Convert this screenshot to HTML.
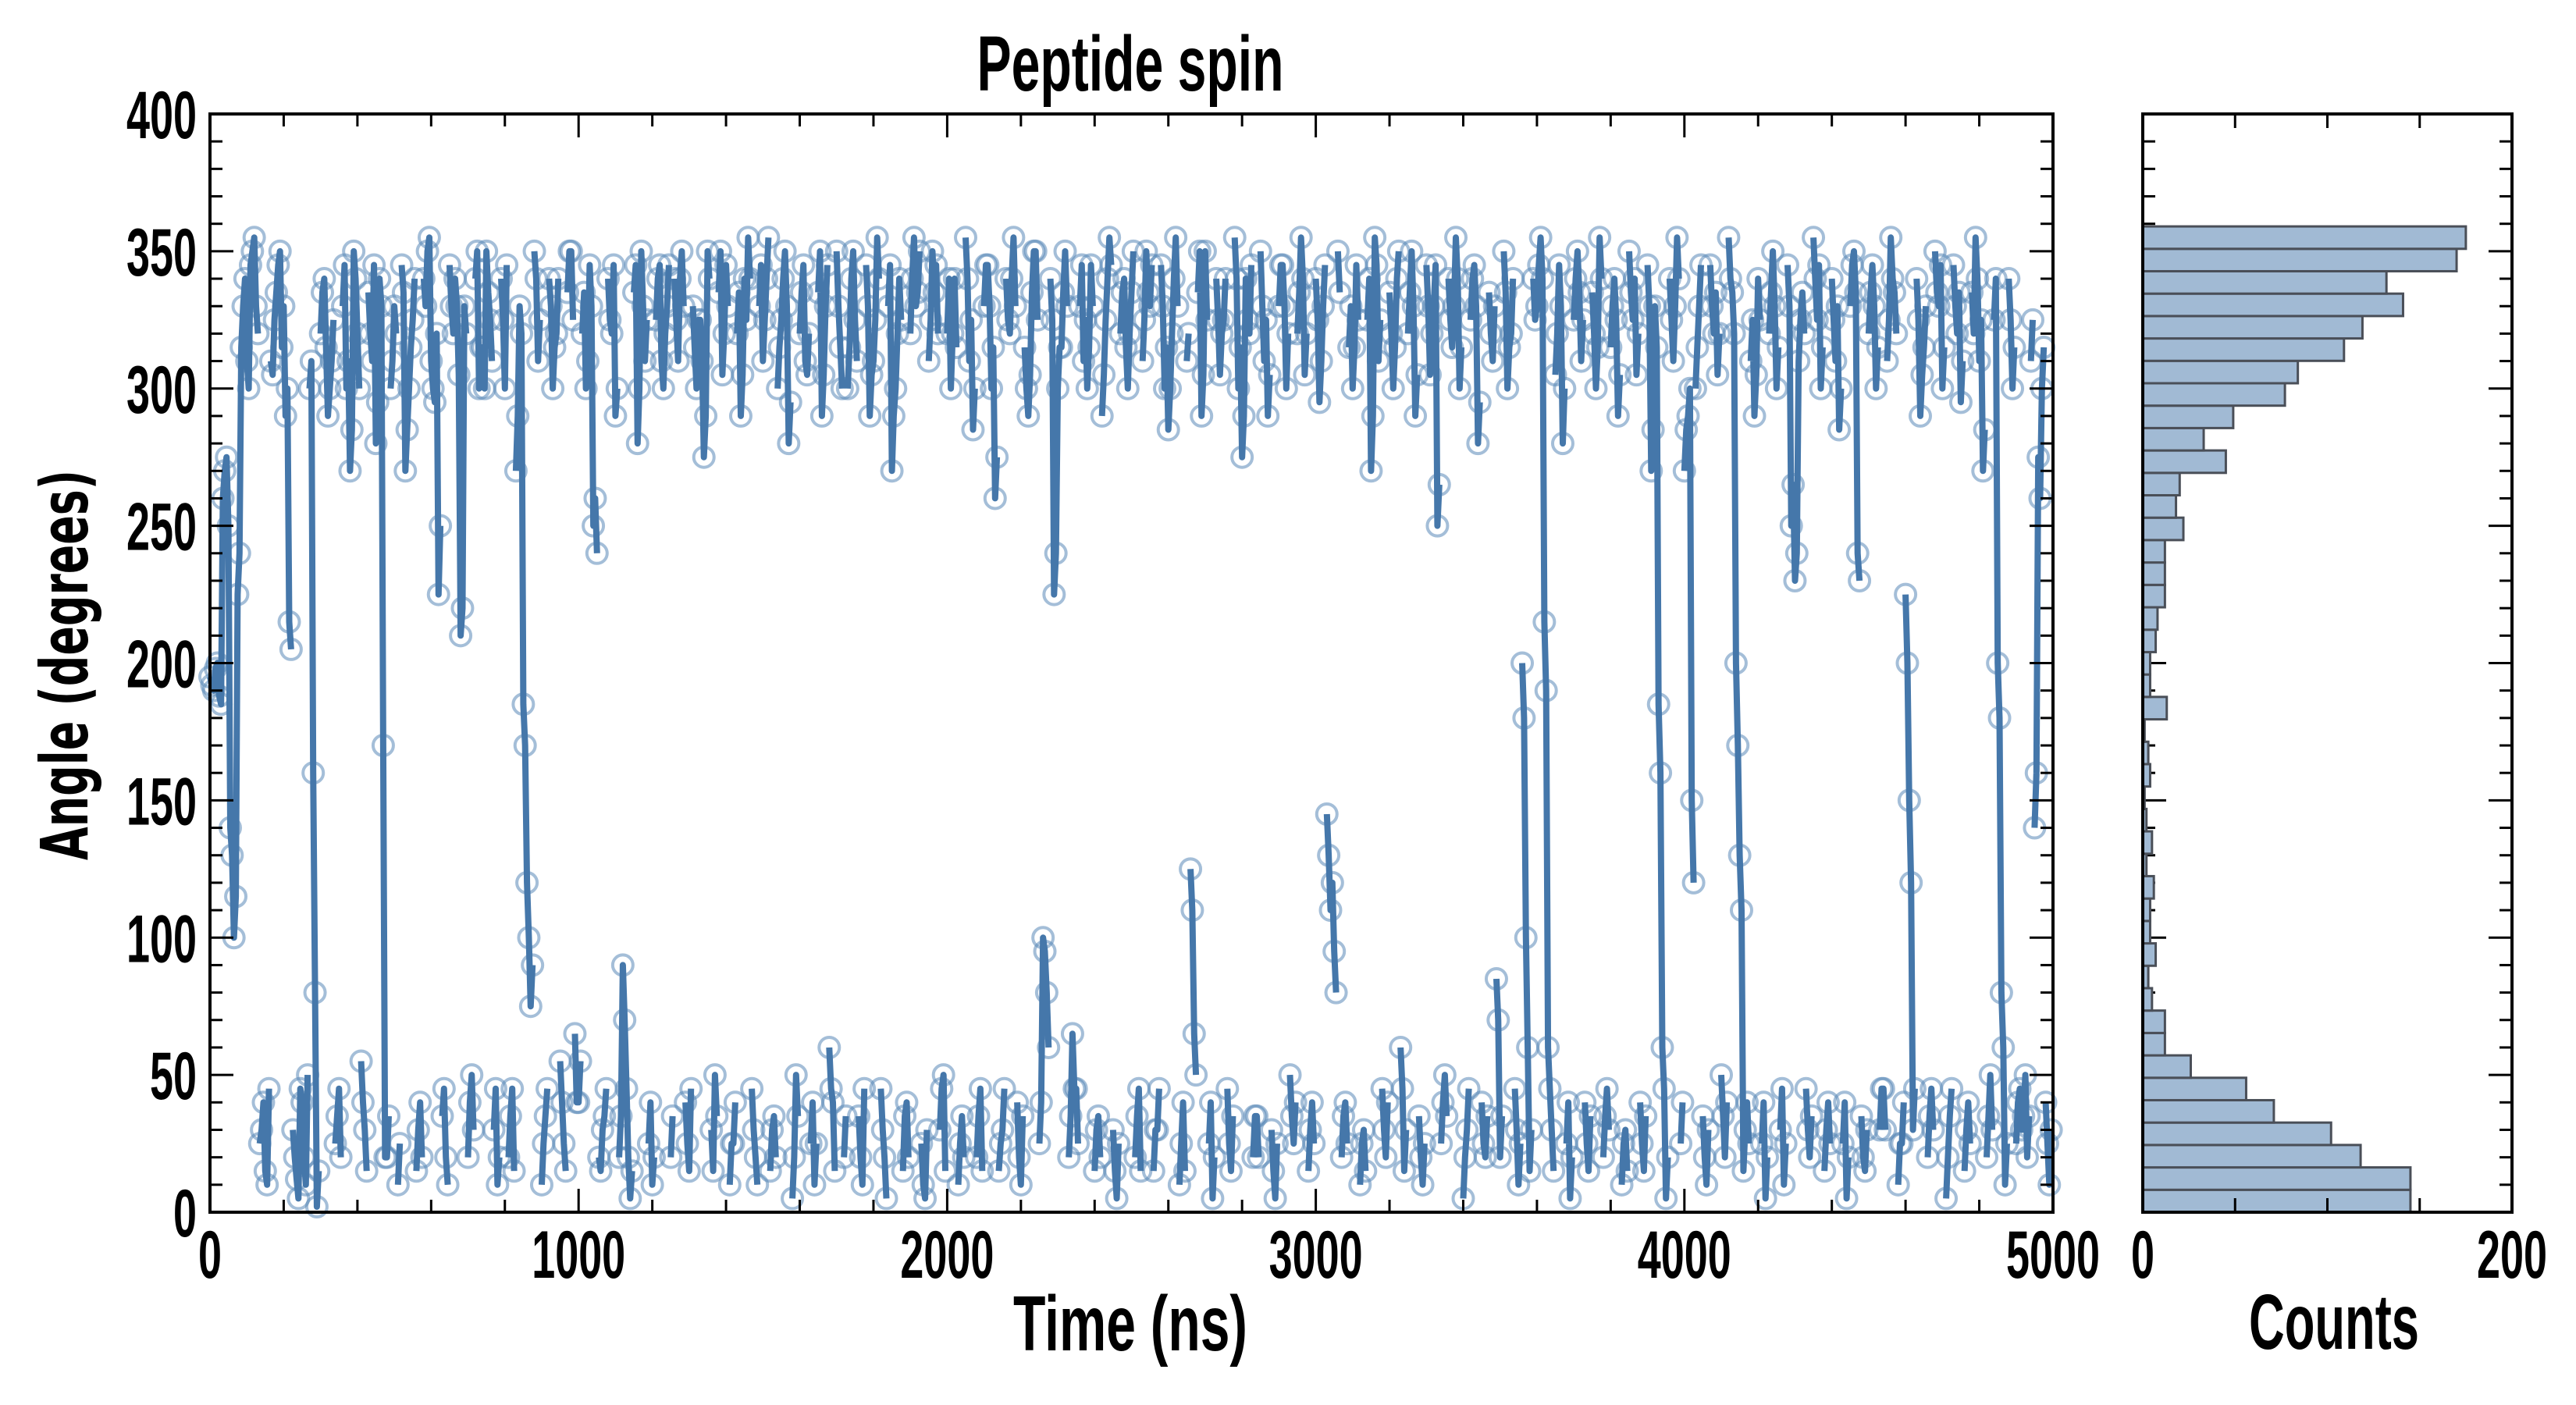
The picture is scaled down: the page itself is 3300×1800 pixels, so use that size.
<!DOCTYPE html>
<html><head><meta charset="utf-8"><style>
html,body{margin:0;padding:0;background:#fff;}
svg{display:block;}
text{font-family:"Liberation Sans Narrow","Liberation Sans",sans-serif;font-weight:bold;fill:#000;}
</style></head><body>
<svg id="chart" width="3300" height="1800" viewBox="0 0 3300 1800" xmlns="http://www.w3.org/2000/svg">
<g id="main"></g>
<g id="hist"></g>
<text x="1448" y="116" font-size="100" text-anchor="middle" textLength="393" lengthAdjust="spacingAndGlyphs">Peptide spin</text>
<text x="1448" y="1730" font-size="100" text-anchor="middle" textLength="300" lengthAdjust="spacingAndGlyphs">Time (ns)</text>
<text x="2990" y="1728" font-size="100" text-anchor="middle" textLength="218" lengthAdjust="spacingAndGlyphs">Counts</text>
<text transform="translate(112,852) rotate(-90)" font-size="84" text-anchor="middle" textLength="500" lengthAdjust="spacingAndGlyphs" style="font-family:'DejaVu Sans','Liberation Sans',sans-serif">Angle (degrees)</text>
</svg>
<script>
const anglesA = [
195,190,200,185,270,250,130,115,240,330,310,345,355,320,30,15,45,305,335,350,330,300,205,20,5,
40,10,300,160,2,320,340,290,310,25,45,330,300,270,350,320,55,30,335,310,280,340,170,20,300,
330,10,345,270,300,325,15,40,340,350,310,295,225,35,20,345,320,330,210,330,20,50,340,300,315,
350,325,30,10,340,300,20,45,270,330,185,120,75,350,310,10,35,340,300,320,55,25,335,350,65,
40,320,300,345,250,240,15,35,340,320,290,20,90,45,5,335,280,350,310,25,10,325,345,300,330,
20,340,310,350,40,15,330,300,325,275,350,30,50,335,305,345,10,25,320,290,340,355,45,20,330,
310,340,15,35,300,325,350,280,5,50,320,345,305,25,10,335,290,330,60,40,350,315,20,300,340,
325,35,10,345,290,310,355,45,20,330,270,300,340,15,40,320,355,335,25,5,310,350,345,30,50,
320,300,340,10,35,355,310,285,20,45,330,345,300,260,15,30,340,320,355,40,10,315,290,335,350,
25,100,80,340,225,300,315,350,20,65,45,330,310,300,345,15,35,290,325,355,30,5,320,340,300,
335,20,45,310,350,330,15,30,345,300,285,320,355,10,40,310,125,65,335,290,350,25,5,340,305,
325,45,15,355,300,275,340,320,20,35,350,310,290,30,5,330,345,300,50,25,320,355,305,15,40,
340,295,330,145,110,95,350,20,40,315,300,345,10,30,325,270,355,310,45,20,335,300,340,60,15,
320,350,290,35,10,345,305,330,250,25,50,340,315,355,300,5,30,325,345,280,40,20,335,310,85,
20,350,300,320,45,10,200,100,15,340,330,355,215,60,30,305,345,280,25,5,325,350,310,40,15,
335,300,355,20,45,315,340,290,10,30,350,325,305,40,15,345,270,330,185,60,5,340,310,355,25,
270,290,150,300,330,35,10,345,320,305,50,20,355,335,200,130,15,40,310,290,340,25,5,320,350,
300,30,10,345,250,230,310,335,45,20,355,325,300,15,40,340,310,285,25,5,330,350,240,35,15,
320,345,300,30,45,310,355,335,10,25,225,150,30,340,290,315,20,45,350,330,300,5,35,345,320,
295,15,40,335,355,310,270,20,50,325,200,80,10,340,300,25,45,35,20,310,140,275,300,40,10];
const anglesB = [
192,198,188,260,275,140,100,225,315,340,300,350,330,25,40,10,310,325,345,315,290,215,30,12,45,
20,50,310,80,15,335,315,300,325,35,20,345,310,285,340,300,40,15,320,345,295,330,20,35,310,
320,25,335,285,315,340,30,20,330,355,300,320,250,45,10,330,340,305,220,320,40,30,350,315,300,
335,310,45,20,325,345,35,15,290,320,170,100,90,340,325,25,45,330,315,340,40,15,350,325,40,
55,335,310,330,260,20,30,45,325,345,300,35,70,20,15,345,300,330,325,40,20,340,310,320,345,
35,325,340,330,25,45,315,325,310,290,340,15,35,350,320,330,25,40,335,305,325,340,30,10,345,
325,355,30,20,315,340,330,295,20,35,335,310,320,40,25,350,305,345,45,15,330,300,35,315,350,
310,20,45,330,305,325,340,30,5,345,290,320,325,35,20,340,330,350,10,30,325,335,320,45,15,
340,320,315,25,20,340,325,300,35,15,345,330,315,275,25,45,325,340,330,20,35,300,305,350,325,
40,95,60,325,240,315,335,330,35,45,25,345,325,315,330,30,20,305,340,345,15,25,335,315,320,
350,35,15,325,335,345,30,45,330,315,300,340,330,25,15,320,110,50,350,305,325,40,20,325,320,
340,25,35,340,315,290,325,345,35,20,330,325,305,15,25,345,330,320,35,40,335,340,320,30,25,
325,310,345,130,120,80,335,35,25,330,315,325,25,15,340,290,345,325,30,40,320,315,350,45,30,
335,330,305,20,25,330,320,345,265,40,35,325,330,340,315,20,45,340,330,295,25,35,320,330,70,
35,335,315,340,30,25,180,60,30,325,345,340,190,45,15,320,330,300,40,20,340,335,325,25,35,
320,315,340,35,30,330,325,305,25,15,335,340,320,25,35,330,285,315,160,45,20,325,330,340,40,
285,300,120,315,345,20,30,330,335,320,35,40,340,320,170,110,30,25,325,305,325,40,20,335,330,
315,45,25,330,265,240,325,320,30,35,340,345,315,30,25,325,330,300,40,20,345,335,230,20,30,
335,330,315,45,30,325,340,320,25,40,200,120,45,325,305,330,35,30,335,345,315,20,45,330,335,
310,30,25,320,340,325,285,35,30,340,180,60,25,325,315,40,30,50,35,325,160,260,315,25,30];
const times = [];
const angles = [];
for (let i = 0; i < anglesA.length; i++) {
  times.push(i * 10); angles.push(anglesA[i]);
  times.push(i * 10 + 5); angles.push(anglesB[i]);
}
const histCounts = [145,145,118,102,71,56,26,12,12,5,3,7,4,4,6,2,5,2,1,4,3,1,13,4,4,7,8,12,12,12,22,18,20,45,33,49,77,84,109,119,141,132,170,175];
const histBinWidth = 8.16;
const xTicks = [0,1000,2000,3000,4000,5000];
const yTicks = [0,50,100,150,200,250,300,350,400];
const histXTickLabels = [0,200];

const NS = "http://www.w3.org/2000/svg";
const L = 269, R = 2630, T = 146, B = 1553;
const HL = 2745, HR = 3218;
const xs = v => L + (v / 5000) * (R - L);
const ys = v => B - (v / 400) * (B - T);
const hx = v => HL + (v / 200) * (HR - HL);
function mk(tag, attrs, parent) {
  const e = document.createElementNS(NS, tag);
  for (const k in attrs) e.setAttribute(k, attrs[k]);
  parent.appendChild(e);
  return e;
}
const main = document.getElementById('main');
const hist = document.getElementById('hist');

for (let i = 0; i < angles.length; i++) {
  const c = mk('circle', {cx: xs(times[i]), cy: ys(angles[i]), r: 13, fill: 'none', stroke: '#5a88b8', 'stroke-opacity': 0.55, 'stroke-width': 4}, main);
  
  
}
let d = '';
for (let i = 0; i < angles.length; i++) {
  const x = xs(times[i]).toFixed(1), y = ys(angles[i]).toFixed(1);
  if (i > 0 && Math.abs(angles[i] - angles[i-1]) <= 160) d += 'L' + x + ' ' + y;
  else d += 'M' + x + ' ' + y;
}
const line = mk('path', {d: d, fill: 'none', stroke: '#4577aa', 'stroke-width': 8, 'stroke-linejoin': 'round'}, main);



const fr = mk('rect', {x: L, y: T, width: R - L, height: B - T, fill: 'none', stroke: '#000', 'stroke-width': 4}, main);


for (let v = 0; v <= 5000; v += 200) {
  const len = v % 1000 === 0 ? 30 : 16;
  mk('line', {x1: xs(v), y1: B, x2: xs(v), y2: B - len, stroke: '#000', 'stroke-width': 3}, main);
  mk('line', {x1: xs(v), y1: T, x2: xs(v), y2: T + len, stroke: '#000', 'stroke-width': 3}, main);
}
xTicks.forEach(v => {
  const t = mk('text', {x: xs(v), y: 1637, 'font-size': 86, 'text-anchor': 'middle'}, main);
  t.textContent = v;
  t.setAttribute('textLength', String(v).length * 30);
  t.setAttribute('lengthAdjust', 'spacingAndGlyphs');
  
  
});
for (let v = 0; v <= 400; v += 10) {
  const len = v % 50 === 0 ? 30 : 16;
  mk('line', {x1: L, y1: ys(v), x2: L + len, y2: ys(v), stroke: '#000', 'stroke-width': 3}, main);
  mk('line', {x1: R, y1: ys(v), x2: R - len, y2: ys(v), stroke: '#000', 'stroke-width': 3}, main);
  mk('line', {x1: HL, y1: ys(v), x2: HL + len, y2: ys(v), stroke: '#000', 'stroke-width': 3}, hist);
  mk('line', {x1: HR, y1: ys(v), x2: HR - len, y2: ys(v), stroke: '#000', 'stroke-width': 3}, hist);
}
yTicks.forEach(v => {
  const t = mk('text', {x: 252, y: ys(v) + 31, 'font-size': 86, 'text-anchor': 'end'}, main);
  t.textContent = v;
  t.setAttribute('textLength', String(v).length * 30);
  t.setAttribute('lengthAdjust', 'spacingAndGlyphs');
  
  
});
histCounts.forEach((c, i) => {
  const y0 = ys(i * histBinWidth), y1 = ys((i + 1) * histBinWidth);
  const b = mk('rect', {x: HL, y: y1, width: hx(c) - HL, height: y0 - y1, fill: '#a1bad4', stroke: '#4a4f58', 'stroke-width': 3}, hist);
  
  
});
const hf = mk('rect', {x: HL, y: T, width: HR - HL, height: B - T, fill: 'none', stroke: '#000', 'stroke-width': 4}, hist);


for (let v = 0; v <= 200; v += 50) {
  mk('line', {x1: hx(v), y1: B, x2: hx(v), y2: B - 18, stroke: '#000', 'stroke-width': 3}, hist);
  mk('line', {x1: hx(v), y1: T, x2: hx(v), y2: T + 18, stroke: '#000', 'stroke-width': 3}, hist);
}
histXTickLabels.forEach(v => {
  const t = mk('text', {x: hx(v), y: 1637, 'font-size': 86, 'text-anchor': 'middle'}, hist);
  t.textContent = v;
  t.setAttribute('textLength', String(v).length * 30);
  t.setAttribute('lengthAdjust', 'spacingAndGlyphs');
  
  
});
</script>
</body></html>
